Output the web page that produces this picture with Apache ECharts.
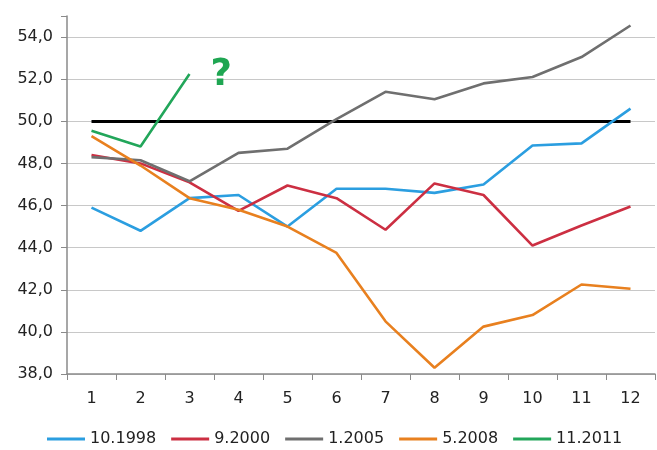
<!DOCTYPE html>
<html>
<head>
<meta charset="utf-8">
<script src="https://cdn.jsdelivr.net/npm/echarts@6/dist/echarts.min.js"></script>
<style>
  html, body { margin: 0; padding: 0; background: #fff; }
  #chart { width: 657px; height: 450px; }
</style>
</head>
<body>
<div id="chart"></div>
<script>
// months since the start of each episode
var months = ['1', '2', '3', '4', '5', '6', '7', '8', '9', '10', '11', '12'];

var s1998 = [45.9, 44.8, 46.35, 46.5, 45.0, 46.8, 46.8, 46.6, 47.0, 48.85, 48.95, 50.6];
var s2000 = [48.4, 48.0, 47.1, 45.75, 46.95, 46.35, 44.85, 47.05, 46.5, 44.1, 45.05, 45.95];
var s2005 = [48.3, 48.15, 47.15, 48.5, 48.7, 50.1, 51.4, 51.05, 51.8, 52.1, 53.05, 54.55];
var s2008 = [49.3, 47.9, 46.35, 45.8, 45.0, 43.75, 40.5, 38.3, 40.25, 40.8, 42.25, 42.05];
var s2011 = [49.55, 48.8, 52.25];

var threshold = 50;
var yTicks = [38, 40, 42, 44, 46, 48, 50, 52, 54];

var chart = echarts.init(document.getElementById('chart'));

function line(name, data, color) {
  return {
    name: name,
    type: 'line',
    symbol: 'none',
    data: data,
    color: color,
    lineStyle: { width: 2.6, color: color },
    z: 3
  };
}

var series = [
  line('10.1998', s1998, '#2b9ee0'),
  line('9.2000', s2000, '#cc2f42'),
  line('1.2005', s2005, '#6f6f6f'),
  line('5.2008', s2008, '#e8801f'),
  line('11.2011', s2011, '#22a65a')
];

// black 50 line
series[0].markLine = {
  silent: true,
  symbol: 'none',
  label: { show: false },
  lineStyle: { color: '#000', width: 3.2, type: 'solid' },
  z: 2,
  data: [[{ coord: [months[0], threshold] }, { coord: [months[months.length - 1], threshold] }]]
};

var gridColors = yTicks.map(function () { return '#c8c8c8'; });
gridColors.push('rgba(0,0,0,0)');

chart.setOption({
  animation: false,
  textStyle: { fontFamily: 'DejaVu Sans' },
  grid: { left: 67, right: 2, top: 16, bottom: 76 },
  legend: {
    data: ['10.1998', '9.2000', '1.2005', '5.2008', '11.2011'],
    left: 42,
    top: 426,
    icon: 'rect',
    itemWidth: 38,
    itemHeight: 3,
    itemGap: 15,
    textStyle: { fontSize: 16, color: '#222', fontFamily: 'DejaVu Sans' }
  },
  xAxis: {
    type: 'category',
    data: months,
    boundaryGap: true,
    axisLine: { lineStyle: { color: '#8a8a8a', width: 1.5 } },
    axisTick: { show: true, length: 6, lineStyle: { color: '#8a8a8a' } },
    axisLabel: { fontSize: 16, color: '#222', margin: 17 }
  },
  yAxis: {
    type: 'value',
    min: 38,
    max: 55,
    interval: 2,
    axisLine: { show: true, lineStyle: { color: '#8a8a8a', width: 1.5 } },
    axisTick: { show: true, length: 6, lineStyle: { color: '#8a8a8a' } },
    axisLabel: {
      fontSize: 16,
      color: '#222',
      margin: 14,
      formatter: function (v) {
        return yTicks.indexOf(v) >= 0 ? v.toFixed(1).replace('.', ',') : '';
      }
    },
    splitLine: { show: true, lineStyle: { color: gridColors, width: 1.2 } }
  },
  series: series
});

// the "?" next to the last 11.2011 point
var last = s2011.length - 1;
var p = chart.convertToPixel({ seriesIndex: 4 }, [months[last], s2011[last]]);
chart.setOption({
  graphic: [{
    type: 'text',
    x: p[0] + 21,
    y: p[1] - 17,
    style: {
      text: '?',
      fill: '#1fa652',
      font: 'bold 37px "DejaVu Sans"'
    }
  }]
});
</script>
</body>
</html>
